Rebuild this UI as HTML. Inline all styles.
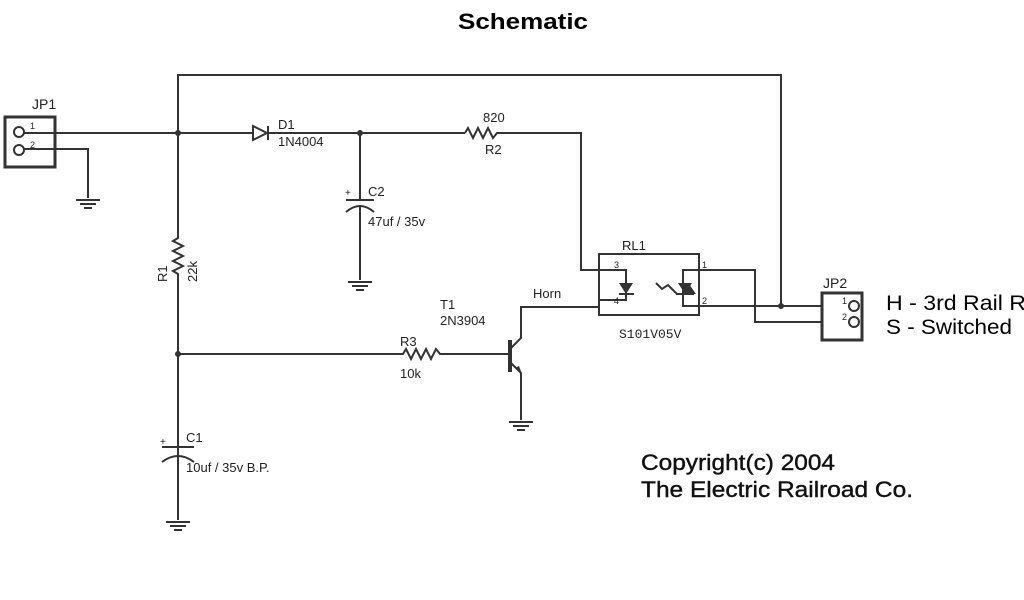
<!DOCTYPE html>
<html><head><style>body{margin:0;background:#fff}svg{display:block}</style></head><body>
<svg width="1024" height="600" viewBox="0 0 1024 600" xmlns="http://www.w3.org/2000/svg" font-family="Liberation Sans, sans-serif">
<rect width="1024" height="600" fill="#fff"/>
<text x="458" y="29" font-size="22" font-weight="bold" textLength="130" lengthAdjust="spacingAndGlyphs">Schematic</text>
<g stroke="#333" stroke-width="2" fill="none">
<polyline points="178,133 178,75 781,75 781,306"/>
<rect x="5" y="117" width="50" height="50" stroke-width="3"/>
<circle cx="19" cy="132" r="5"/><circle cx="19" cy="150" r="5"/>
<line x1="24" y1="133" x2="252" y2="133"/>
<polyline points="24,149 88,149 88,198"/>
<polygon points="253,126 253,140 267,133"/>
<line x1="268" y1="126" x2="268" y2="140"/>
<line x1="268" y1="133" x2="465" y2="133"/>
<polyline points="465,133 468,128 473,138 478,128 483,138 488,128 493,138 497,133 581,133 581,270 599,270"/>
<line x1="360" y1="133" x2="360" y2="200"/>
<line x1="346" y1="200" x2="374" y2="200"/>
<path d="M346,212 Q360,200 374,212"/>
<line x1="360" y1="206" x2="360" y2="280"/>
<polyline points="178,133 178,238 173,241 183,246 173,251 183,256 173,261 183,266 173,271 178,274 178,520"/>
<polyline points="178,354 403,354 406,349 411,359 416,349 421,359 426,349 431,359 436,349 440,354 510,354"/>
<line x1="510" y1="340" x2="510" y2="372" stroke-width="4"/>
<polyline points="511,348 521,338 521,307 599,307"/>
<polyline points="511,363 521,373 521,420"/>
<line x1="162" y1="447" x2="194" y2="447"/>
<path d="M162,462 Q178,450 194,462"/>
<rect x="599" y="254" width="100" height="61"/>
<polyline points="599,270 626,270 626,300 599,300"/>
<polyline points="699,270 683,270 683,306 699,306"/>
<line x1="699" y1="306" x2="822" y2="306"/>
<polyline points="699,270 755,270 755,322 822,322"/>
<line x1="619" y1="294" x2="634" y2="294"/>
<line x1="676" y1="294" x2="694" y2="294"/>
<polyline points="656,283 662,289 668,285 677,294"/>
<rect x="822" y="293" width="40" height="47" stroke-width="3"/>
<circle cx="854" cy="306" r="5"/><circle cx="854" cy="322" r="5"/>
</g>
<g fill="#333">
<polygon points="619,283 633,283 626,294"/>
<polygon points="678,283 692,283 685,294"/>
<polygon points="682,294 696,294 689,284"/>
<polygon points="515,368 522,374 519,366"/>
<circle cx="178" cy="133" r="3"/><circle cx="360" cy="133" r="3"/>
<circle cx="178" cy="354" r="3"/><circle cx="781" cy="306" r="3"/>
</g>
<g stroke="#333" stroke-width="2">
<line x1="76" y1="200" x2="100" y2="200"/><line x1="80" y1="204" x2="96" y2="204"/><line x1="84" y1="208" x2="92" y2="208"/>
<line x1="348" y1="282" x2="372" y2="282"/><line x1="352" y1="286" x2="368" y2="286"/><line x1="356" y1="290" x2="364" y2="290"/>
<line x1="509" y1="422" x2="533" y2="422"/><line x1="513" y1="426" x2="529" y2="426"/><line x1="517" y1="430" x2="525" y2="430"/>
<line x1="166" y1="522" x2="190" y2="522"/><line x1="170" y1="526" x2="186" y2="526"/><line x1="174" y1="530" x2="182" y2="530"/>
</g>
<g font-size="13" fill="#222">
<text x="32" y="109" font-size="14">JP1</text>
<text x="30" y="129" font-size="9">1</text><text x="30" y="148" font-size="9">2</text>
<text x="278" y="129">D1</text><text x="278" y="146">1N4004</text>
<text x="368" y="196">C2</text><text x="345" y="196" font-size="10">+</text>
<text x="368" y="226">47uf / 35v</text>
<text x="483" y="122">820</text><text x="485" y="154">R2</text>
<text transform="translate(167,282) rotate(-90)">R1</text>
<text transform="translate(197,282) rotate(-90)">22k</text>
<text x="440" y="309">T1</text><text x="440" y="325">2N3904</text>
<text x="533" y="298">Horn</text>
<text x="400" y="346">R3</text><text x="400" y="378">10k</text>
<text x="186" y="442">C1</text><text x="160" y="445" font-size="10">+</text>
<text x="186" y="472">10uf / 35v B.P.</text>
<text x="622" y="250">RL1</text>
<text x="619" y="338" font-family="Liberation Mono, monospace">S101V05V</text>
<text x="614" y="268" font-size="9">3</text><text x="614" y="304" font-size="9">4</text>
<text x="702" y="268" font-size="9">1</text><text x="702" y="304" font-size="9">2</text>
<text x="823" y="288" font-size="14">JP2</text>
<text x="842" y="304" font-size="9">1</text><text x="842" y="320" font-size="9">2</text>
</g>
<text x="886" y="310" font-size="21" textLength="140" lengthAdjust="spacingAndGlyphs">H - 3rd Rail R</text>
<text x="886" y="334" font-size="21" textLength="126" lengthAdjust="spacingAndGlyphs">S - Switched</text>
<g font-size="22" fill="#111" stroke="#111" stroke-width="0.4">
<text x="641" y="470" textLength="194" lengthAdjust="spacingAndGlyphs">Copyright(c) 2004</text>
<text x="641" y="497" textLength="272" lengthAdjust="spacingAndGlyphs">The Electric Railroad Co.</text>
</g>
</svg>
</body></html>
